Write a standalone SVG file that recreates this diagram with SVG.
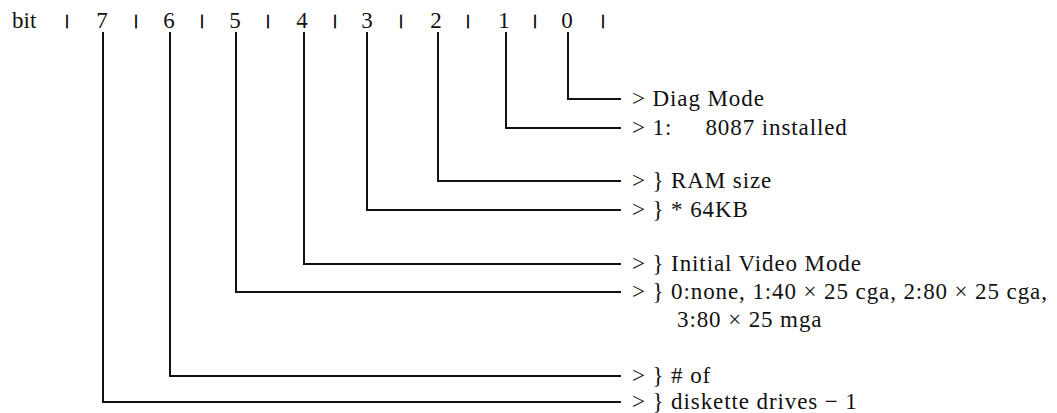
<svg xmlns="http://www.w3.org/2000/svg" width="1057" height="413" viewBox="0 0 1057 413">
<style>
text{font-family:"Liberation Serif","Times New Roman",serif;fill:#111}
.h{font-size:23px}
.sep{font-size:15px;stroke:#111;stroke-width:0.9}
.d{font-size:23px;text-anchor:middle}
.t{font-size:23px;letter-spacing:0.9px}
.c{fill:none;stroke:#111;stroke-width:2}
</style>
<rect width="1057" height="413" fill="#fff"/>
<g id="header">
<text class="h" x="12" y="28">bit</text>
<g class="sep" text-anchor="middle">
<text x="67" y="25">|</text><text x="136" y="25">|</text><text x="202" y="25">|</text><text x="268" y="25">|</text><text x="335" y="25">|</text><text x="401" y="25">|</text><text x="468" y="25">|</text><text x="535" y="25">|</text><text x="603" y="25">|</text>
</g>
</g>
<g id="connectors">
<polyline class="c" points="568,32 568,99 621,99"/>
<polyline class="c" points="506,32 506,128 621,128"/>
<polyline class="c" points="438,32 438,181 621,181"/>
<polyline class="c" points="367,32 367,210 621,210"/>
<polyline class="c" points="304,32 304,264 621,264"/>
<polyline class="c" points="236,32 236,292 621,292"/>
<polyline class="c" points="170,32 170,376 621,376"/>
<polyline class="c" points="103,32 103,402 621,402"/>
</g>
<g id="bit0"><text class="d" x="567" y="28">0</text><text class="t" x="632" y="105.5">&gt; Diag Mode</text></g>
<g id="bit1"><text class="d" x="504" y="28">1</text><text class="t" x="632" y="134.5" xml:space="preserve">&gt; 1:     8087 installed</text></g>
<g id="bit2"><text class="d" x="436" y="28">2</text><text class="t" x="632" y="187.5">&gt; } RAM size</text></g>
<g id="bit3"><text class="d" x="367" y="28">3</text><text class="t" x="632" y="216.5">&gt; } * 64KB</text></g>
<g id="bit4"><text class="d" x="302" y="28">4</text><text class="t" x="632" y="270.5">&gt; } Initial Video Mode</text></g>
<g id="bit5"><text class="d" x="235" y="28">5</text><text class="t" x="632" y="298.5">&gt; } 0:none, 1:40 × 25 cga, 2:80 × 25 cga,</text><text class="t" x="677" y="326.5">3:80 × 25 mga</text></g>
<g id="bit6"><text class="d" x="169" y="28">6</text><text class="t" x="632" y="382.5">&gt; } # of</text></g>
<g id="bit7"><text class="d" x="102" y="28">7</text><text class="t" x="632" y="408.5">&gt; } diskette drives − 1</text></g>
</svg>
